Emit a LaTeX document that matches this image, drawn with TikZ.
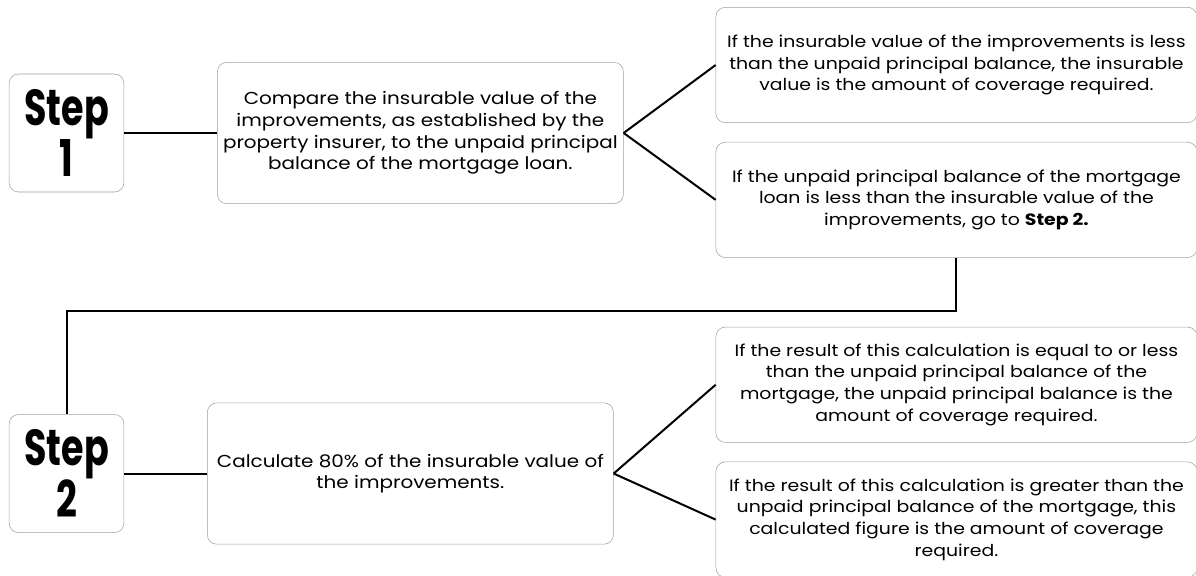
\documentclass[tikz,border=0pt]{standalone}
\usepackage{fontspec}
\setmainfont{Poppins}[FakeStretch=1.15]
\newfontfamily\stepfont{Poppins}[FakeStretch=0.72]
\usepackage{tikz}
\usetikzlibrary{positioning}
\tikzstyle{stepbox} = [rectangle, draw=gray!75, rounded corners=7pt, minimum width=86pt, minimum height=88.5pt, inner sep=0pt, align=center, font=\stepfont\bfseries\fontsize{38}{27}\selectfont]
\tikzstyle{task} = [rectangle, draw=gray!75, rounded corners=7pt, minimum width=304.5pt, minimum height=106pt, inner sep=0pt, align=center, font=\fontsize{13}{16.3}\selectfont]
\tikzstyle{result} = [rectangle, draw=gray!75, rounded corners=7pt, minimum width=360.75pt, minimum height=86.5pt, inner sep=0pt, align=center, font=\fontsize{12.3}{16.3}\selectfont]
\tikzstyle{line} = [line width=1.5pt, black]

\begin{document}
\begin{tikzpicture}
\useasboundingbox (0,0) rectangle (897pt,-431.25pt);

\node (step1)  	[stepbox] at (49.9pt,-99.75pt)		{Step\\1};
\node (comp) 	[task, right=69.75pt of step1]  		{Compare the insurable value of the\\improvements, as established by the\\property insurer, to the unpaid principal\\balance of the mortgage loan.};
\node (res1)		[result, right=69pt of comp, yshift=51pt]	{If the insurable value of the improvements is less\\than the unpaid principal balance, the insurable\\value is the amount of coverage required.};
\node (res2)		[result, below=14.25pt of res1]	{If the unpaid principal balance of the mortgage\\loan is less than the insurable value of the\\improvements, go to \textbf{Step 2.}};
\node (step2)	[stepbox, below=166.5pt of step1]		{Step\\2};
\node (calc)		[task, right=62.25pt of step2]		{Calculate 80\% of the insurable value of\\the improvements.};
\node (res3)		[result, below=51.75pt of res2]		{If the result of this calculation is equal to or less\\than the unpaid principal balance of the\\mortgage, the unpaid principal balance is the\\amount of coverage required.};
\node (res4)		[result, below=14.25pt of res3]		{If the result of this calculation is greater than the\\unpaid principal balance of the mortgage, this\\calculated figure is the amount of coverage\\required.};

\draw [line] (step1) -- (comp);
\draw [line] (comp.east) -- (res1.west);
\draw [line] (comp.east) -- (res2.west);
\draw [line] (res2.south) -- ++(0,-39.75pt) -| (step2.north);
\draw [line] (step2) -- (calc);
\draw [line] (calc.east) -- (res3.west);
\draw [line] (calc.east) -- (res4.west);

\end{tikzpicture}
\end{document}
